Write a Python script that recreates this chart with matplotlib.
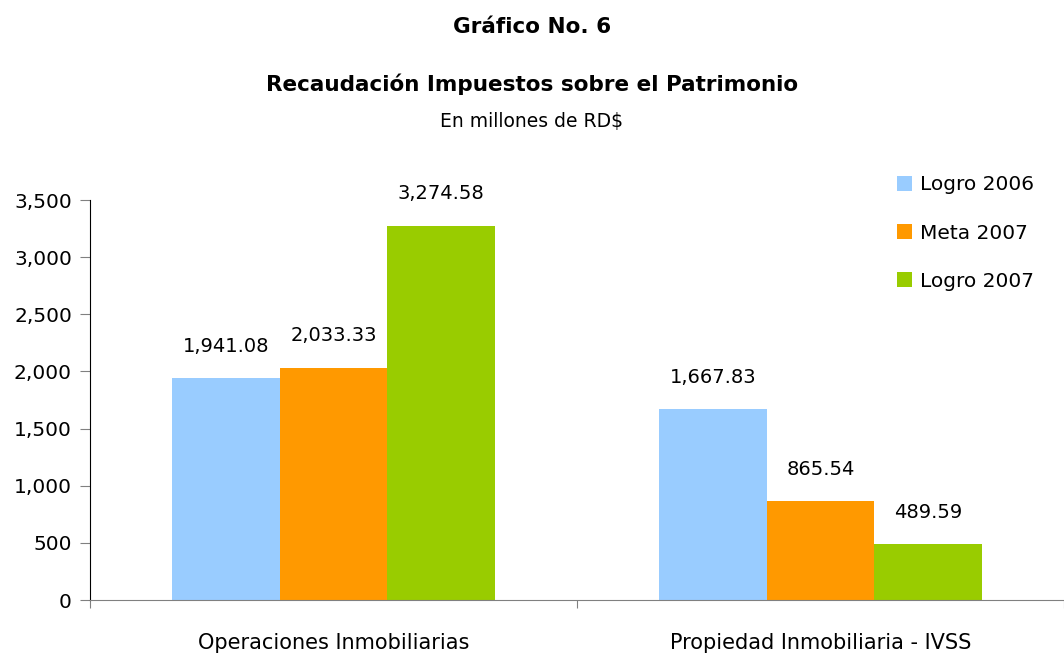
import matplotlib.pyplot as plt
import numpy as np

# data
categorias = ['Operaciones Inmobiliarias', 'Propiedad Inmobiliaria - IVSS']
series = ['Logro 2006', 'Meta 2007', 'Logro 2007']
logro_2006 = [1941.08, 1667.83]
meta_2007 = [2033.33, 865.54]
logro_2007 = [3274.58, 489.59]
colores = ['#99ccff', '#ff9900', '#99cc00']

valores = [logro_2006, meta_2007, logro_2007]

fig = plt.figure(figsize=(10.64, 6.54), dpi=100)
ax = fig.add_axes([90/1064, 1-600/654, 974/1064, 400/654])

x = np.arange(len(categorias))
w = 0.221
for i, (vals, lab, col) in enumerate(zip(valores, series, colores)):
    pos = x + (i-1)*w
    ax.bar(pos, vals, w, color=col, label=lab)
    for p, v in zip(pos, vals):
        ax.annotate(f'{v:,.2f}', (p, v), xytext=(0, 23), textcoords='offset points',
                    ha='center', va='center', fontsize=14)

ax.set_xlim(-0.5, 1.5)
ax.set_ylim(0, 3500)
ax.set_yticks(np.arange(0, 3501, 500))
ax.set_yticklabels([f'{t:,}' for t in range(0, 3501, 500)], fontsize=14.5)
ax.set_xticks([-0.5, 0.5, 1.5])
ax.set_xticklabels([])
ax.set_xticks(x, minor=True)
ax.set_xticklabels(categorias, minor=True, fontsize=15)
ax.tick_params(axis='x', which='minor', length=0, pad=24)
ax.tick_params(axis='x', which='major', length=6, color='#808080')
ax.tick_params(axis='y', length=7, color='#808080', pad=6)
ax.spines['top'].set_visible(False)
ax.spines['right'].set_visible(False)
ax.spines['bottom'].set_color('#808080')

ax.legend(loc='upper left', bbox_to_anchor=(789/974, 1.107), frameon=False, fontsize=14.5,
          handlelength=0.75, handleheight=0.75, handletextpad=0.4, labelspacing=1.45)

fig.text(0.5, 1-27/654, 'Gráfico No. 6', ha='center', va='center', fontsize=15.5, fontweight='bold')
fig.text(0.5, 1-84/654, 'Recaudación Impuestos sobre el Patrimonio', ha='center', va='center',
         fontsize=15.5, fontweight='bold')
fig.text(0.5, 1-121/654, 'En millones de RD$', ha='center', va='center', fontsize=13.5)

plt.savefig('out.png', dpi=100)
